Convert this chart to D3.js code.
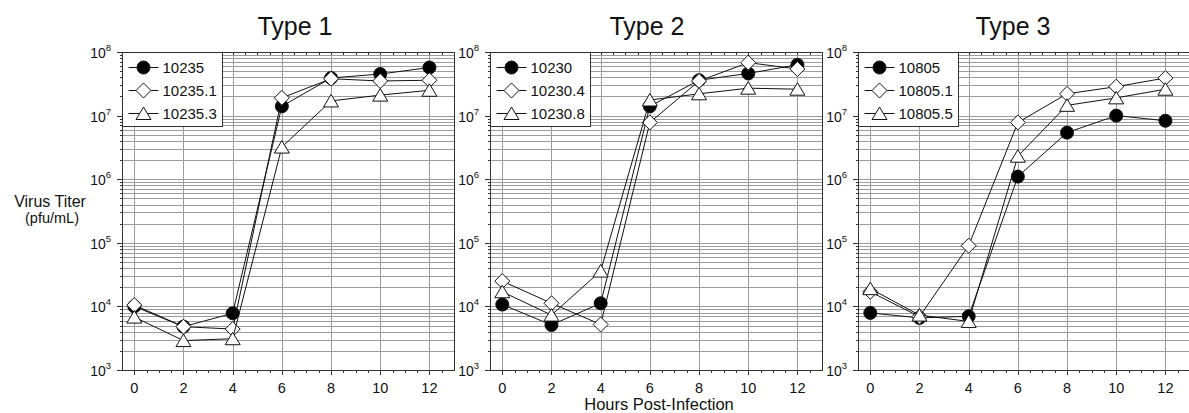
<!DOCTYPE html>
<html>
<head>
<meta charset="utf-8">
<script src="https://cdn.jsdelivr.net/npm/d3@7"></script>
<style>
    body { margin: 0; background: #fff; }
    svg { display: block; font-family: "Liberation Sans", Arial, sans-serif; }
    .grid line { stroke: #9c9c9c; stroke-width: 1; shape-rendering: crispEdges; }
    .frame { fill: none; stroke: #333; stroke-width: 1; shape-rendering: crispEdges; }
    .tick { stroke: #333; stroke-width: 1; shape-rendering: crispEdges; }
    .series-line { fill: none; stroke: #111; stroke-width: 1; }
    .marker { stroke: #111; stroke-width: 1; }
</style>
</head>
<body>
<svg id="chart" width="1189" height="413"></svg>
<script>
/**
 * Data.
 */
const hours = [0, 2, 4, 6, 8, 10, 12];
const xTicks = [0, 2, 4, 6, 8, 10, 12];
const yExponents = [3, 4, 5, 6, 7, 8];
const panelTitles = ['Type 1', 'Type 2', 'Type 3'];
const markerTypes = ['circle', 'diamond', 'triangle'];

const type1Names = ['10235', '10235.1', '10235.3'];
const type1Values = [
    [1.0e4, 4.8e3, 7.8e3, 1.4e7, 3.9e7, 4.5e7, 5.7e7],
    [1.05e4, 4.8e3, 4.4e3, 1.9e7, 3.8e7, 3.5e7, 3.6e7],
    [6.8e3, 2.9e3, 3.1e3, 3.2e6, 1.7e7, 2.1e7, 2.5e7]
];

const type2Names = ['10230', '10230.4', '10230.8'];
const type2Values = [
    [1.07e4, 5.1e3, 1.12e4, 1.4e7, 3.6e7, 4.6e7, 6.3e7],
    [2.5e4, 1.12e4, 5.2e3, 7.8e6, 3.5e7, 6.8e7, 5.4e7],
    [1.7e4, 7.3e3, 3.6e4, 1.76e7, 2.2e7, 2.7e7, 2.6e7]
];

const type3Names = ['10805', '10805.1', '10805.5'];
const type3Values = [
    [7.9e3, 6.6e3, 7.0e3, 1.1e6, 5.4e6, 1.0e7, 8.3e6],
    [1.7e4, 6.9e3, 9.0e4, 7.8e6, 2.2e7, 2.85e7, 3.9e7],
    [1.9e4, 7.3e3, 5.8e3, 2.3e6, 1.45e7, 1.9e7, 2.6e7]
];

/**
 * Layout.
 */
const panelLefts = [122, 490, 858],
    panelWidth = 332,
    plotTop = 52, plotBottom = 370,
    titleShift = [7, -9, -11], // titles are not quite centred in the original
    legendWidth = 100, legendHeight = 74;

const panels = [
    { title: panelTitles[0], names: type1Names, values: type1Values },
    { title: panelTitles[1], names: type2Names, values: type2Values },
    { title: panelTitles[2], names: type3Names, values: type3Values }
];

const svg = d3.select('#chart');

const yScale = d3.scaleLog().domain([1e3, 1e8]).range([plotBottom, plotTop]);

/**
 * Marker path centred on its bounding box.
 */
function markerPath(type) {
    const p = d3.path();
    if (type === 'circle') {
        p.arc(0, 0, 6.5, 0, 2 * Math.PI);
    } else if (type === 'diamond') {
        p.moveTo(0, -7.5); p.lineTo(7.5, 0); p.lineTo(0, 7.5); p.lineTo(-7.5, 0); p.closePath();
    } else {
        p.moveTo(0, -6.5); p.lineTo(7.5, 6); p.lineTo(-7.5, 6); p.closePath();
    }
    return p.toString();
}

function drawPanel(panel, i) {
    const left = panelLefts[i];
    const xScale = d3.scaleLinear().domain([-0.5, 13]).range([left, left + panelWidth]);
    const g = svg.append('g').attr('class', 'panel');

    // Grid
    const grid = g.append('g').attr('class', 'grid');
    const minorValues = [];
    yExponents.slice(0, -1).forEach(e => {
        d3.range(1, 10).forEach(m => minorValues.push(m * Math.pow(10, e)));
    });
    grid.selectAll('.h').data(minorValues.filter(v => v > 1e3)).enter().append('line')
        .attr('x1', left).attr('x2', left + panelWidth)
        .attr('y1', d => Math.round(yScale(d)) + 0.5).attr('y2', d => Math.round(yScale(d)) + 0.5);
    grid.selectAll('.v').data(xTicks).enter().append('line')
        .attr('x1', d => Math.round(xScale(d)) + 0.5).attr('x2', d => Math.round(xScale(d)) + 0.5)
        .attr('y1', plotTop).attr('y2', plotBottom);

    // Ticks on top / bottom every half hour
    const halfHours = d3.range(-0.5, 13.01, 0.5).filter(h => h > -0.5 && h < 13);
    g.selectAll('.tt').data(halfHours).enter().append('line').attr('class', 'tick')
        .attr('x1', d => Math.round(xScale(d)) + 0.5).attr('x2', d => Math.round(xScale(d)) + 0.5)
        .attr('y1', plotTop).attr('y2', plotTop + 3);
    g.selectAll('.bt').data(halfHours).enter().append('line').attr('class', 'tick')
        .attr('x1', d => Math.round(xScale(d)) + 0.5).attr('x2', d => Math.round(xScale(d)) + 0.5)
        .attr('y1', plotBottom).attr('y2', d => plotBottom + (d % 2 === 0 ? 5 : 3));

    // Left ticks
    g.selectAll('.lt').data(minorValues.concat([1e8])).enter().append('line').attr('class', 'tick')
        .attr('x1', d => left - (Math.log10(d) % 1 === 0 ? 5 : 2)).attr('x2', left)
        .attr('y1', d => Math.round(yScale(d)) + 0.5).attr('y2', d => Math.round(yScale(d)) + 0.5);

    g.append('rect').attr('class', 'frame')
        .attr('x', left + 0.5).attr('y', plotTop + 0.5)
        .attr('width', panelWidth).attr('height', plotBottom - plotTop);

    // Tick labels
    g.selectAll('.xl').data(xTicks).enter().append('text')
        .attr('x', d => xScale(d)).attr('y', 393)
        .attr('text-anchor', 'middle').attr('font-size', 14.5).attr('fill', '#111')
        .text(d => d);

    const yl = g.selectAll('.yl').data(yExponents).enter().append('text')
        .attr('x', left - 11).attr('y', d => yScale(Math.pow(10, d)) + 6)
        .attr('text-anchor', 'end').attr('font-size', 14).attr('fill', '#111')
        .text('10');
    yl.append('tspan').attr('dy', -7).attr('font-size', 9.5).text(d => d);

    // Title
    g.append('text')
        .attr('x', left + panelWidth / 2 + titleShift[i]).attr('y', 35)
        .attr('text-anchor', 'middle').attr('font-size', 25).attr('fill', '#111')
        .text(panel.title);

    // Series
    const line = d3.line().x((d, j) => xScale(hours[j])).y(d => yScale(d));
    panel.values.forEach((vals, s) => {
        g.append('path').attr('class', 'series-line').attr('d', line(vals));
        g.selectAll('.m' + s).data(vals).enter().append('path').attr('class', 'marker')
            .attr('transform', (d, j) => 'translate(' + xScale(hours[j]) + ',' + yScale(d) + ')')
            .attr('fill', markerTypes[s] === 'circle' ? '#000' : '#fff')
            .attr('d', markerPath(markerTypes[s]));
    });

    // Legend
    const lg = g.append('g').attr('transform', 'translate(' + (left + 0.5) + ',' + (plotTop + 0.5) + ')');
    lg.append('rect').attr('width', legendWidth).attr('height', legendHeight)
        .attr('fill', '#fff').attr('stroke', '#333');
    const items = lg.selectAll('.item').data(panel.names).enter().append('g')
        .attr('transform', (d, s) => 'translate(0,' + (15 + s * 23) + ')');
    items.append('line').attr('x1', 6).attr('x2', 36).attr('stroke', '#111');
    items.append('path').attr('class', 'marker')
        .attr('transform', 'translate(21,0)')
        .attr('fill', (d, s) => markerTypes[s] === 'circle' ? '#000' : '#fff')
        .attr('d', (d, s) => markerPath(markerTypes[s]));
    items.append('text').attr('x', 40).attr('dy', '0.36em')
        .attr('font-size', 15).attr('fill', '#111').text(d => d);
}

panels.forEach(drawPanel);

// Axis titles
svg.append('text').attr('x', 50).attr('y', 207).attr('text-anchor', 'middle')
    .attr('font-size', 16).attr('fill', '#111').text('Virus Titer');
svg.append('text').attr('x', 52).attr('y', 223).attr('text-anchor', 'middle')
    .attr('font-size', 14.5).attr('fill', '#111').text('(pfu/mL)');
svg.append('text').attr('x', 659).attr('y', 410).attr('text-anchor', 'middle')
    .attr('font-size', 16.5).attr('fill', '#111').text('Hours Post-Infection');
</script>
</body>
</html>
